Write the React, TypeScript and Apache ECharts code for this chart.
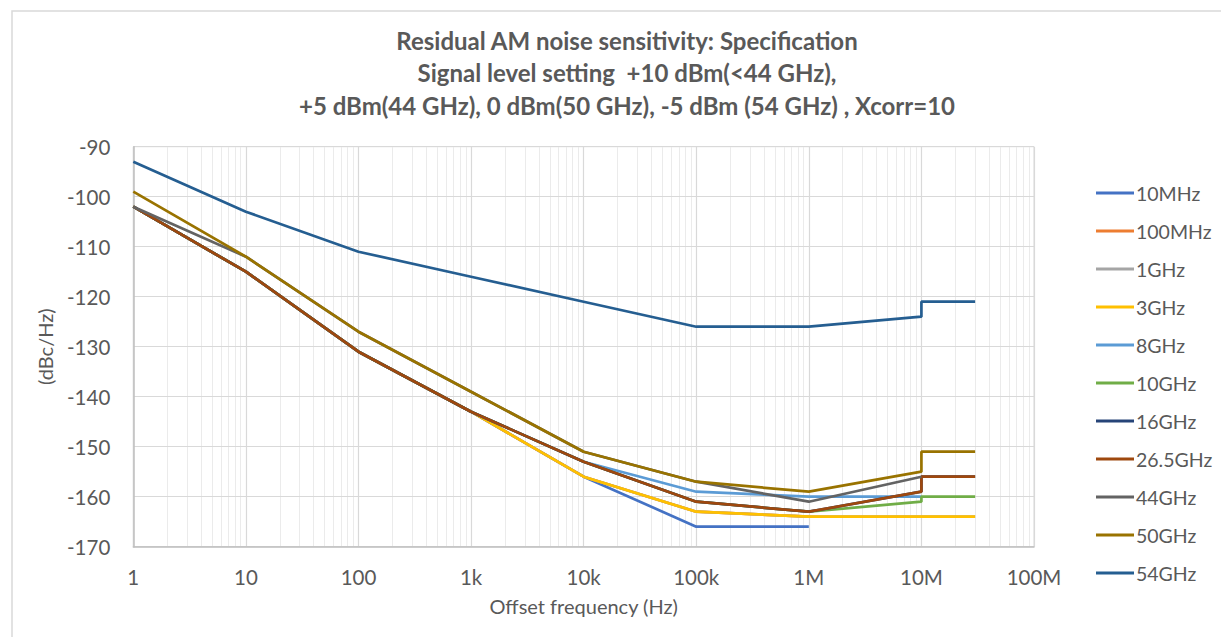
import React, { useEffect, useRef } from "react";
import * as echarts from "echarts";

const freqs = [1, 10, 100, 1e3, 1e4, 1e5, 1e6, 1e7, 1e7, 3e7];
const tickLabels = ["1", "10", "100", "1k", "10k", "100k", "1M", "10M", "100M"];

const seriesNames = ["10MHz", "100MHz", "1GHz", "3GHz", "8GHz", "10GHz", "16GHz", "26.5GHz", "44GHz", "50GHz", "54GHz"];
const seriesColors = ["#4472C4", "#ED7D31", "#A5A5A5", "#FFC000", "#5B9BD5", "#70AD47", "#264478", "#9E480E", "#636363", "#997300", "#255E91"];

const v10MHz = [-102, -115, -131, -143, -156, -166, -166];
const v100MHz = [-102, -115, -131, -143, -156, -163, -164];
const v1GHz = [-102, -115, -131, -143, -156, -163, -164, -164, -164, -164];
const v3GHz = [-102, -115, -131, -143, -156, -163, -164, -164, -164, -164];
const v8GHz = [-102, -115, -131, -143, -153, -159, -160, -160];
const v10GHz = [-102, -115, -131, -143, -153, -161, -163, -161, -160, -160];
const v16GHz = [-102, -115, -131, -143, -153, -161, -163, -159, -156, -156];
const v26GHz = [-102, -115, -131, -143, -153, -161, -163, -159, -156, -156];
const v44GHz = [-102, -112, -127, -139, -151, -157, -161, -156];
const v50GHz = [-99, -112, -127, -139, -151, -157, -159, -155, -151, -151];
const v54GHz = [-93, -103, -111, -116, -121, -126, -126, -124, -121, -121];

const seriesValues = [v10MHz, v100MHz, v1GHz, v3GHz, v8GHz, v10GHz, v16GHz, v26GHz, v44GHz, v50GHz, v54GHz];

const titleLines = [
  "Residual AM noise sensitivity: Specification",
  "Signal level setting  +10 dBm(<44 GHz),",
  "+5 dBm(44 GHz), 0 dBm(50 GHz), -5 dBm (54 GHz) , Xcorr=10",
];

const FONT = "Lato, 'Open Sans', sans-serif";
const TEXT = "#595959";

export default function App() {
  const ref = useRef<HTMLDivElement>(null);
  useEffect(() => {
    if (!ref.current) return;
    const chart = echarts.init(ref.current, null, { renderer: "svg" });

    const minorLines: any[] = [];
    for (let e = 0; e < 8; e++) {
      for (let m = 2; m <= 9; m++) minorLines.push({ xAxis: m * Math.pow(10, e) });
    }

    const lineSeries = seriesNames.map((name, i) => ({
      name,
      type: "line",
      data: seriesValues[i].map((v, j) => [freqs[j], v]),
      symbol: "none",
      showSymbol: false,
      lineStyle: { color: seriesColors[i], width: 2.7 },
      itemStyle: { color: seriesColors[i] },
      z: 5,
    }));

    chart.setOption({
      animation: false,
      backgroundColor: "#ffffff",
      textStyle: { fontFamily: FONT },
      title: {
        text: titleLines.join("\n"),
        left: 622,
        top: 19,
        textAlign: "center",
        textStyle: { fontFamily: FONT, fontSize: 24, fontWeight: "bold", color: TEXT, lineHeight: 32.5 },
      },
      legend: {
        orient: "vertical",
        left: 1091,
        top: 178,
        icon: "rect",
        itemWidth: 38,
        itemHeight: 3,
        itemGap: 18,
        data: seriesNames,
        textStyle: { fontFamily: FONT, fontSize: 19.5, color: TEXT, lineHeight: 20, padding: [0, 0, 0, -3] },
      },
      graphic: [
        {
          type: "rect",
          shape: { x: 12, y: 11, width: 1240, height: 660 },
          style: { fill: "none", stroke: "#D9D9D9", lineWidth: 1.5 },
          silent: true,
          z: -10,
        },
      ],
      grid: {
        left: 133.3,
        right: 187,
        top: 146.7,
        bottom: 90.3,
        show: true,
        borderColor: "#D9D9D9",
        borderWidth: 1,
      },
      xAxis: {
        type: "log",
        logBase: 10,
        min: 1,
        max: 1e8,
        name: "Offset frequency (Hz)",
        nameLocation: "middle",
        nameGap: 49,
        nameTextStyle: { fontFamily: FONT, fontSize: 20, color: TEXT },
        axisLine: { show: true, lineStyle: { color: "#BFBFBF", width: 1.5 } },
        axisTick: { show: false },
        axisLabel: {
          margin: 20,
          fontFamily: FONT,
          fontSize: 20.5,
          color: TEXT,
          formatter: (v: number) => tickLabels[Math.round(Math.log10(v))] ?? "",
        },
        splitLine: { show: true, lineStyle: { color: "#D9D9D9", width: 1.2 } },
        z: 2,
      },
      yAxis: {
        type: "value",
        min: -170,
        max: -90,
        interval: 10,
        name: "(dBc/Hz)",
        nameLocation: "middle",
        nameRotate: 90,
        nameGap: 78,
        nameTextStyle: { fontFamily: FONT, fontSize: 20, color: TEXT },
        axisLine: { show: true, lineStyle: { color: "#BFBFBF", width: 1.5 } },
        axisTick: { show: false },
        axisLabel: { margin: 23, fontFamily: FONT, fontSize: 20.5, color: TEXT },
        splitLine: { show: true, lineStyle: { color: "#D9D9D9", width: 1.2 } },
        z: 2,
      },
      series: [
        {
          name: "_minor",
          type: "line",
          data: [],
          silent: true,
          z: 0,
          markLine: {
            silent: true,
            symbol: "none",
            z: 0,
            label: { show: false },
            lineStyle: { color: "#EBEBEB", width: 1, type: "solid" },
            data: minorLines,
            animation: false,
          },
        },
        ...lineSeries,
      ],
    });
    return () => chart.dispose();
  }, []);
  return <div ref={ref} style={{ position: "absolute", left: 0, top: 0, width: 1221, height: 637 }} />;
}
